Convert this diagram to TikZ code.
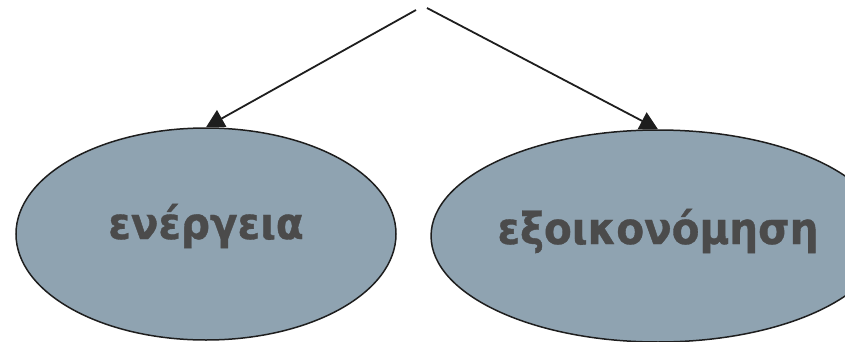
\documentclass[tikz,border=0pt]{standalone}
\usepackage{fontspec}
\setmainfont{DejaVu Sans}
\newfontfamily\lblfont[FakeStretch=0.92,FakeBold=0.8]{DejaVu Sans Bold}
\usetikzlibrary{shapes.geometric,arrows.meta}
\definecolor{ellfill}{HTML}{8FA3B1}
\definecolor{ellline}{HTML}{1E1E1E}
\definecolor{txt}{HTML}{4B4B4B}
\begin{document}
\begin{tikzpicture}[x=1pt,y=-1pt,
  blob/.style={ellipse,draw=ellline,line width=1.5pt,fill=ellfill,
    minimum width=380pt,minimum height=212pt,inner sep=0pt,
    text=txt,font=\lblfont\fontsize{44}{50}\selectfont},
  link/.style={draw=ellline,line width=1.8pt,
    -{Triangle[length=18pt,width=19pt]}}]
\useasboundingbox (0,0) rectangle (845,342);
\node[blob,text height=24pt,text depth=14pt] (L) at (206,234) {ενέργεια};
\node[blob,text height=24pt,text depth=8pt] (R) at (658,236) {εξοικονόμηση};
\coordinate (s1) at (416,10);
\coordinate (s2) at (427,8);
\draw[link] (s1) -- (L.north);
\draw[link] (s2) -- (R.north);
\end{tikzpicture}
\end{document}
